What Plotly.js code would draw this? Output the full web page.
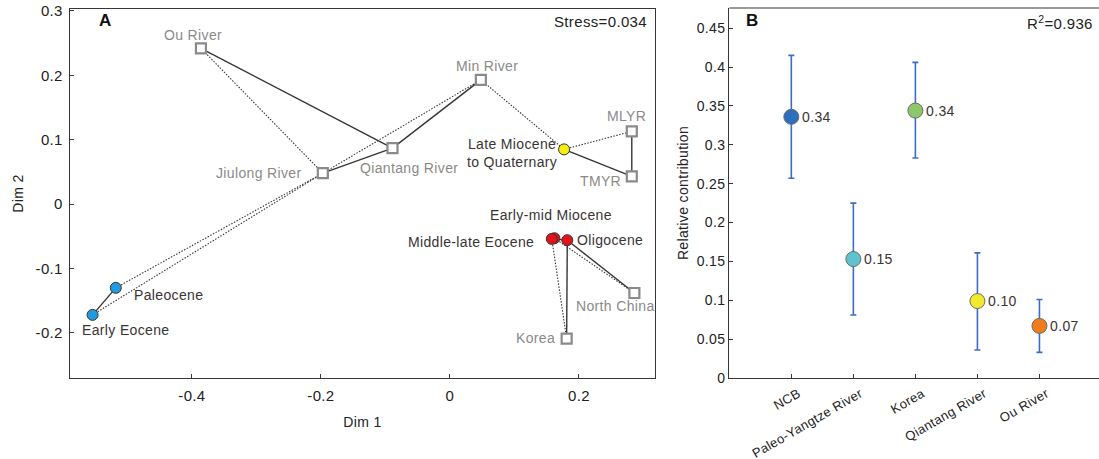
<!DOCTYPE html>
<html>
<head>
<meta charset="utf-8">
<script src="https://cdn.plot.ly/plotly-3.0.1.min.js"></script>
<style>html,body{margin:0;padding:0;background:#fff;}#chart{width:1099px;height:459px;} text{letter-spacing:0.35px;}</style>
</head>
<body>
<div id="chart"></div>
<script>
// ---------- Panel A data (MDS) ----------
const sourceNames = ["Ou River", "Jiulong River", "Qiantang River", "Min River", "MLYR", "TMYR", "North China", "Korea"];
const sourceDim1 = [-0.386, -0.197, -0.089, 0.048, 0.282, 0.282, 0.286, 0.181];
const sourceDim2 = [0.242, 0.048, 0.087, 0.193, 0.113, 0.043, -0.138, -0.209];

const periodNames = ["Late Miocene<br>to Quaternary", "Early-mid Miocene", "Middle-late Eocene", "Oligocene", "Paleocene", "Early Eocene"];
const periodDim1 = [0.177, 0.162, 0.158, 0.182, -0.518, -0.554];
const periodDim2 = [0.085, -0.053, -0.054, -0.056, -0.130, -0.172];
const periodColors = ["#f5ee12", "#e1141c", "#e1141c", "#e1141c", "#1f9be0", "#1f9be0"];

const solidLinks = [["Ou River","Qiantang River"],["Jiulong River","Qiantang River"],["Qiantang River","Min River"],
  ["Late Miocene<br>to Quaternary","TMYR"],["MLYR","TMYR"],["Paleocene","Early Eocene"],
  ["Middle-late Eocene","Oligocene"],["Oligocene","North China"],["Oligocene","Korea"]];
const dottedLinks = [["Ou River","Jiulong River"],["Jiulong River","Min River"],["Min River","Late Miocene<br>to Quaternary"],
  ["Late Miocene<br>to Quaternary","MLYR"],["Paleocene","Jiulong River"],["Early Eocene","Jiulong River"],
  ["Middle-late Eocene","Korea"],["Early-mid Miocene","North China"]];

const stressText = "Stress=0.034";

// ---------- Panel B data ----------
const contribCats = ["NCB", "Paleo-Yangtze River", "Korea", "Qiantang River", "Ou River"];
const contribVals = [0.336, 0.153, 0.344, 0.099, 0.067];
const contribUpper = [0.415, 0.225, 0.406, 0.161, 0.101];
const contribLower = [0.257, 0.081, 0.283, 0.036, 0.033];
const contribLabels = ["0.34", "0.15", "0.34", "0.10", "0.07"];
const contribColors = ["#2d6fbd", "#5fc3cd", "#8cc76a", "#efea2c", "#f07c1c"];
const r2Text = "R<sup>2</sup>=0.936";

// ---------- build ----------
const pos = {};
sourceNames.forEach((n,i)=>pos[n]=[sourceDim1[i], sourceDim2[i]]);
periodNames.forEach((n,i)=>pos[n]=[periodDim1[i], periodDim2[i]]);
function linkXY(links){
  const xs=[], ys=[];
  links.forEach(([a,b])=>{xs.push(pos[a][0],pos[b][0],null); ys.push(pos[a][1],pos[b][1],null);});
  return [xs, ys];
}
const [sx, sy] = linkXY(solidLinks);
const [dx, dy] = linkXY(dottedLinks);

const lineCol = "#3a3434";
const traces = [
  {x: dx, y: dy, mode: "lines", line: {color: lineCol, width: 1.1, dash: "1.5px,1.5px"}, hoverinfo: "skip", xaxis: "x", yaxis: "y"},
  {x: sx, y: sy, mode: "lines", line: {color: lineCol, width: 1.4}, hoverinfo: "skip", xaxis: "x", yaxis: "y"},
  {x: sourceDim1, y: sourceDim2, mode: "markers", xaxis: "x", yaxis: "y",
   marker: {symbol: "square", size: 10, color: "#ffffff", line: {color: "#8a8a8a", width: 2.2}}},
  {x: periodDim1, y: periodDim2, mode: "markers", xaxis: "x", yaxis: "y",
   marker: {symbol: "circle", size: 11, color: periodColors, line: {color: "#3a3434", width: 1}}},
  {x: contribCats, y: contribVals, mode: "markers", xaxis: "x2", yaxis: "y2",
   error_y: {type: "data", symmetric: false,
     array: contribUpper.map((u,i)=>u-contribVals[i]),
     arrayminus: contribVals.map((v,i)=>v-contribLower[i]),
     color: "#3d6cc4", thickness: 1.6, width: 3},
   marker: {symbol: "circle", size: 15, color: contribColors, line: {color: "#6b6b6b", width: 1}}}
];

const srcOffsets = {
  "Ou River": {xs:-8, ys:13, xa:"center"},
  "Jiulong River": {xs:-20, ys:0, xa:"right"},
  "Qiantang River": {xs:17, ys:-20, xa:"center"},
  "Min River": {xs:6, ys:14, xa:"center"},
  "MLYR": {xs:-5, ys:15, xa:"center"},
  "TMYR": {xs:-9, ys:-5, xa:"right"},
  "North China": {xs:-19, ys:-13, xa:"center"},
  "Korea": {xs:-10, ys:1, xa:"right"}
};
const perOffsets = {
  "Late Miocene<br>to Quaternary": {xs:-5, ys:-4, xa:"right"},
  "Early-mid Miocene": {xs:-3, ys:23, xa:"center"},
  "Middle-late Eocene": {xs:-16, ys:-3, xa:"right"},
  "Oligocene": {xs:8, ys:0, xa:"left"},
  "Paleocene": {xs:16, ys:-7, xa:"left"},
  "Early Eocene": {xs:33, ys:-15, xa:"center"}
};
const font = "Liberation Sans, Arial, sans-serif";
const annotations = [];
sourceNames.forEach((n,i)=>{
  const o = srcOffsets[n];
  annotations.push({x: sourceDim1[i], y: sourceDim2[i], xref: "x", yref: "y", text: n, showarrow: false,
    xshift: o.xs, yshift: o.ys, xanchor: o.xa, yanchor: "middle", font: {family: font, size: 14, color: "#8a8a8a"}});
});
periodNames.forEach((n,i)=>{
  const o = perOffsets[n];
  annotations.push({x: periodDim1[i], y: periodDim2[i], xref: "x", yref: "y", text: n, showarrow: false, align: "center",
    xshift: o.xs, yshift: o.ys, xanchor: o.xa, yanchor: "middle", font: {family: font, size: 14, color: "#3a3434"}});
});
contribCats.forEach((c,i)=>{
  annotations.push({x: c, y: contribVals[i], xref: "x2", yref: "y2", text: contribLabels[i], showarrow: false,
    xshift: 9, xanchor: "left", yanchor: "middle", font: {family: font, size: 14, color: "#3a3434"}});
});
annotations.push({x: 0.06, y: 0.97, xref: "x domain", yref: "y domain", text: "<b>A</b>", showarrow: false,
  xanchor: "center", yanchor: "middle", font: {family: font, size: 17, color: "#111"}});
annotations.push({x: 0.99, y: 0.967, xref: "x domain", yref: "y domain", text: stressText, showarrow: false,
  xanchor: "right", yanchor: "middle", font: {family: font, size: 15, color: "#222"}});
annotations.push({x: 0.063, y: 0.965, xref: "x2 domain", yref: "y2 domain", text: "<b>B</b>", showarrow: false,
  xanchor: "center", yanchor: "middle", font: {family: font, size: 17, color: "#111"}});
annotations.push({x: 0.99, y: 0.962, xref: "x2 domain", yref: "y2 domain", text: r2Text, showarrow: false,
  xanchor: "right", yanchor: "middle", font: {family: font, size: 15, color: "#222"}});

const axCol = "#3a3434";
const tickFont = {family: font, size: 15, color: "#222"};
const layout = {
  width: 1099, height: 459,
  margin: {l: 0, r: 0, t: 0, b: 0},
  paper_bgcolor: "#fff", plot_bgcolor: "#fff",
  showlegend: false,
  font: {family: font},
  xaxis: {domain: [0.0637, 0.596], range: [-0.589, 0.318], tickvals: [-0.4, -0.2, 0, 0.2], ticktext: ["-0.4","-0.2","0","0.2"],
    ticks: "inside", ticklen: 4, tickcolor: axCol, showline: true, linecolor: axCol, linewidth: 1.2, mirror: true,
    showgrid: false, zeroline: false, tickfont: tickFont, anchor: "y", ticklabelstandoff: 4,
    title: {text: "Dim 1", font: {family: font, size: 14, color: "#222"}, standoff: 14}},
  yaxis: {domain: [0.1765, 0.9804], range: [-0.27, 0.303], tickvals: [-0.2, -0.1, 0, 0.1, 0.2, 0.3], ticktext: ["-0.2","-0.1","0","0.1","0.2","0.3"],
    ticks: "inside", ticklen: 4, tickcolor: axCol, showline: true, linecolor: axCol, linewidth: 1.2, mirror: true,
    showgrid: false, zeroline: false, tickfont: tickFont, anchor: "x", ticklabelstandoff: 3,
    title: {text: "Dim 2", font: {family: font, size: 14, color: "#222"}, standoff: 8}},
  xaxis2: {domain: [0.6636, 1.0], range: [-1, 4.96], type: "category",
    ticks: "inside", ticklen: 4, tickcolor: axCol, showline: true, linecolor: axCol, linewidth: 1.2,
    showgrid: false, zeroline: false, tickangle: -30, tickfont: {family: font, size: 13, color: "#222"}, anchor: "y2",
    ticklabelshift: 7, ticklabelstandoff: 2},
  yaxis2: {domain: [0.1765, 0.9826], range: [0, 0.476], tickvals: [0,0.05,0.1,0.15,0.2,0.25,0.3,0.35,0.4,0.45],
    ticktext: ["0","0.05","0.1","0.15","0.2","0.25","0.3","0.35","0.4","0.45"],
    ticks: "inside", ticklen: 4, tickcolor: axCol, showline: true, linecolor: axCol, linewidth: 1.2,
    showgrid: false, zeroline: false, tickfont: {family: font, size: 14, color: "#222"}, anchor: "x2",
    title: {text: "Relative contribution", font: {family: font, size: 14, color: "#222"}, standoff: 4}},
  shapes: [{type: "line", xref: "x2 domain", yref: "y2 domain", x0: 0, x1: 1, y0: 1, y1: 1, line: {color: axCol, width: 1.2}}],
  annotations: annotations
};
Plotly.newPlot("chart", traces, layout, {displayModeBar: false, staticPlot: true});
</script>
</body>
</html>
